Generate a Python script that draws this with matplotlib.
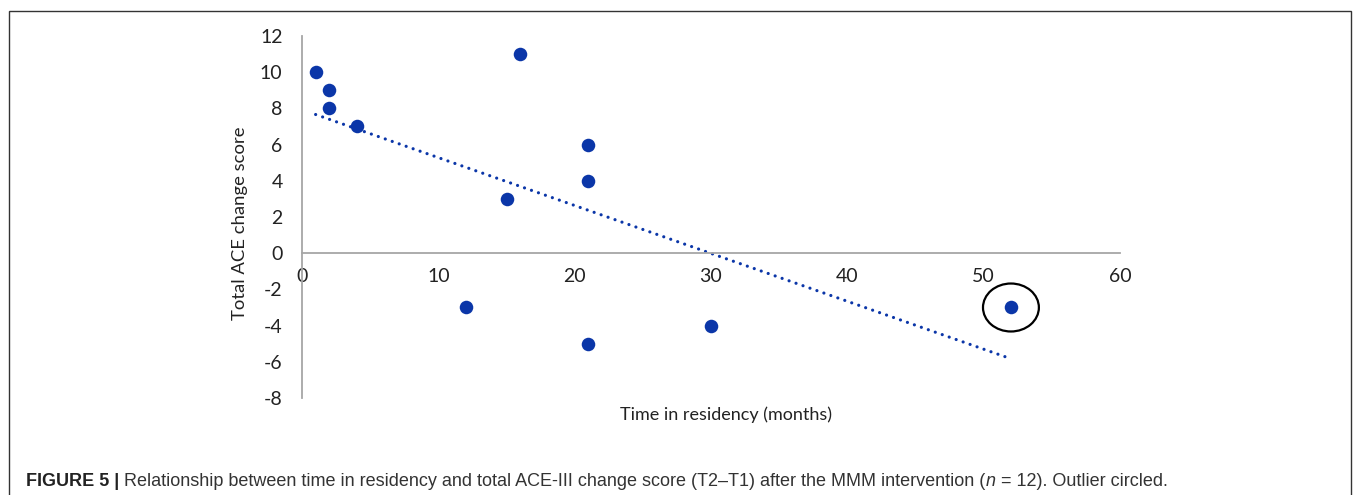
import numpy as np
import matplotlib.pyplot as plt
from matplotlib.patches import Ellipse, Rectangle

# --- dati ---
months = [1, 2, 2, 4, 16, 15, 21, 21, 12, 21, 30, 52]
ace_change = [10, 9, 8, 7, 11, 3, 6, 4, -3, -5, -4, -3]
outlier_idx = 11

x_ticks = [0, 10, 20, 30, 40, 50, 60]
y_ticks = [-8, -6, -4, -2, 0, 2, 4, 6, 8, 10, 12]

blue = '#0B36A8'
axis_grey = '#A6A6A6'
text_col = '#222222'
caption_font = 'Liberation Sans'

plt.rcParams['font.family'] = ['Lato', 'DejaVu Sans']
plt.rcParams['axes.unicode_minus'] = False

# --- figura ---
fig = plt.figure(figsize=(13.57, 4.95), dpi=100)
ax = fig.add_axes([302 / 1357, 1 - 398 / 495, 818 / 1357, 362 / 495])

ax.scatter(months, ace_change, s=95, color=blue, zorder=3, linewidths=0)

# retta di regressione lineare (trendline)
m, q = np.polyfit(months, ace_change, 1)
xl = np.array([min(months), max(months)])
ax.plot(xl, m * xl + q, color=blue, linewidth=2.3,
        linestyle=(0, (0.01, 2.3)), dash_capstyle='round', zorder=2)

# outlier cerchiato
ax.add_patch(Ellipse((months[outlier_idx], ace_change[outlier_idx]),
                     width=4.1, height=2.65, fill=False,
                     edgecolor='black', linewidth=1.6, zorder=4))

ax.set_xlim(0, 60)
ax.set_ylim(-8, 12)
ax.set_xticks(x_ticks)
ax.set_yticks(y_ticks)
ax.tick_params(axis='both', length=0, labelsize=14, labelcolor=text_col)
ax.tick_params(axis='x', pad=11)
ax.tick_params(axis='y', pad=14)

for side in ['top', 'right']:
    ax.spines[side].set_visible(False)
ax.spines['bottom'].set_position(('data', 0))
ax.spines['left'].set_position(('data', 0))
for side in ['bottom', 'left']:
    ax.spines[side].set_color(axis_grey)
    ax.spines[side].set_linewidth(1.3)

fig.text(726 / 1357, 1 - 415 / 495, 'Time in residency (months)', ha='center', va='center',
         fontsize=13, color=text_col)
fig.text(240 / 1357, 1 - 223 / 495, 'Total ACE change score', ha='center', va='center',
         rotation=90, fontsize=13.3, color=text_col)

# cornice
fig.add_artist(Rectangle((8.5 / 1357, -0.05), (1351 - 8.5) / 1357, 1.05 - 11 / 495,
                         transform=fig.transFigure, fill=False,
                         edgecolor='#333333', linewidth=1.0))

# didascalia composta da pezzi
pieces = [
    ('FIGURE 5 |', 'bold', 'normal', '#222222'),
    (' Relationship between time in residency and total ACE-III change score (T2\u2013T1) '
     'after the MMM intervention (', 'normal', 'normal', '#333333'),
    ('n', 'normal', 'italic', '#333333'),
    (' = 12). Outlier circled.', 'normal', 'normal', '#333333'),
]
fig.canvas.draw()
renderer = fig.canvas.get_renderer()
x0 = 26 / 1357
y0 = 1 - 486 / 495
for txt, weight, style, col in pieces:
    t = fig.text(x0, y0, txt, ha='left', va='baseline', fontfamily=caption_font,
                 fontsize=13.0, fontweight=weight, fontstyle=style, color=col)
    bb = t.get_window_extent(renderer=renderer)
    x0 += bb.width / fig.bbox.width

fig.savefig('out.png', dpi=100)
